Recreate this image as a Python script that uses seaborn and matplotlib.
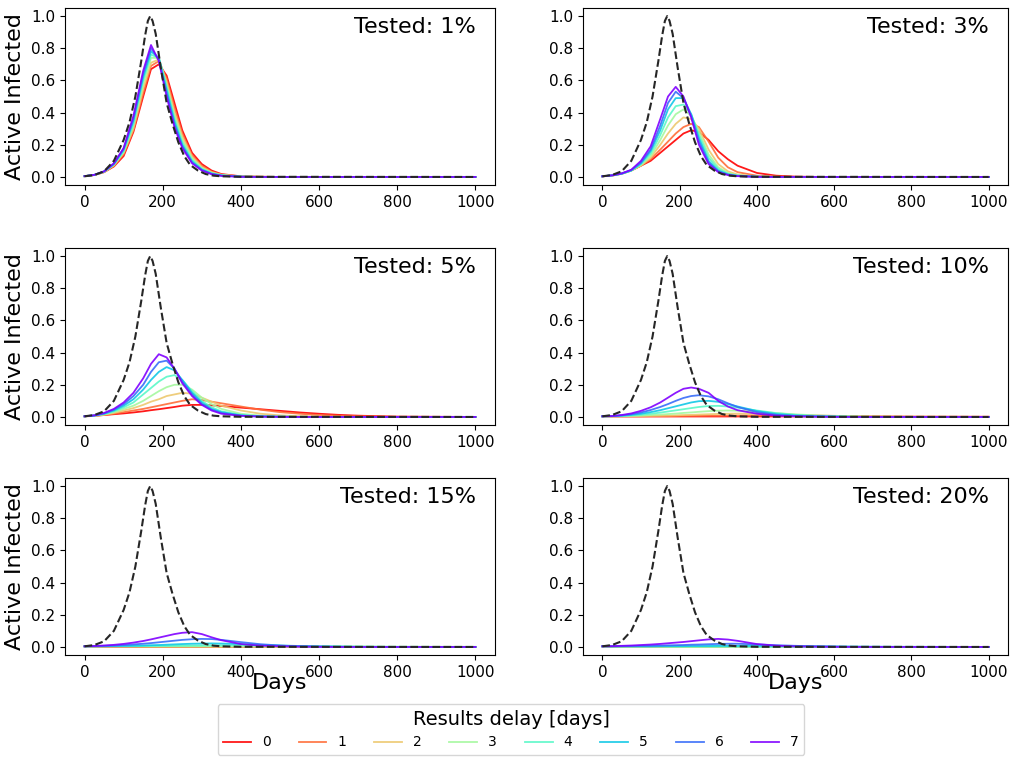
import numpy as np
import pandas as pd
import matplotlib
matplotlib.use("Agg")
import matplotlib.pyplot as plt
import seaborn as sns

DAYS = [0, 25, 50, 75, 100, 125, 150, 170, 190, 210, 230, 250, 275, 300,
        325, 350, 400, 450, 500, 550, 600, 650, 700, 800, 1000]

# no-testing reference curve (black dashed), same in every panel
BASE_DAYS = [0, 25, 50, 75, 100, 115, 130, 145, 155, 162, 168, 174, 182, 195,
             210, 225, 240, 255, 270, 290, 310, 330, 350, 400, 1000]
BASELINE = [0.004, 0.012, 0.035, 0.10, 0.23, 0.34, 0.50, 0.72, 0.88, 0.97, 1.00, 0.97, 0.89, 0.68,
            0.46, 0.33, 0.215, 0.13, 0.075, 0.04, 0.018, 0.008, 0.004, 0.001, 0]

TESTED = [1, 3, 5, 10, 15, 20]
DELAYS = [0, 1, 2, 3, 4, 5, 6, 7]

# one list per delay (0..7) for each tested share
T01 = [
    [0.005, 0.012, 0.03, 0.065, 0.13, 0.28, 0.50, 0.67, 0.70, 0.63, 0.46, 0.29, 0.15, 0.08, 0.04, 0.018, 0.004, 0.001, 0, 0, 0, 0, 0, 0, 0],
    [0.005, 0.012, 0.03, 0.068, 0.14, 0.29, 0.52, 0.69, 0.72, 0.61, 0.43, 0.27, 0.135, 0.07, 0.033, 0.015, 0.003, 0.001, 0, 0, 0, 0, 0, 0, 0],
    [0.005, 0.012, 0.031, 0.072, 0.15, 0.30, 0.55, 0.71, 0.73, 0.59, 0.40, 0.25, 0.125, 0.06, 0.029, 0.013, 0.003, 0.001, 0, 0, 0, 0, 0, 0, 0],
    [0.005, 0.012, 0.032, 0.075, 0.155, 0.32, 0.58, 0.74, 0.74, 0.57, 0.38, 0.23, 0.115, 0.055, 0.026, 0.012, 0.002, 0.0005, 0, 0, 0, 0, 0, 0, 0],
    [0.005, 0.013, 0.033, 0.078, 0.16, 0.33, 0.60, 0.76, 0.74, 0.56, 0.36, 0.215, 0.105, 0.05, 0.023, 0.01, 0.002, 0, 0, 0, 0, 0, 0, 0, 0],
    [0.005, 0.013, 0.034, 0.08, 0.17, 0.35, 0.62, 0.78, 0.74, 0.54, 0.345, 0.20, 0.097, 0.046, 0.021, 0.009, 0.002, 0, 0, 0, 0, 0, 0, 0, 0],
    [0.005, 0.013, 0.034, 0.082, 0.175, 0.36, 0.64, 0.80, 0.73, 0.52, 0.325, 0.19, 0.09, 0.043, 0.019, 0.008, 0.001, 0, 0, 0, 0, 0, 0, 0, 0],
    [0.005, 0.013, 0.035, 0.085, 0.18, 0.38, 0.66, 0.82, 0.72, 0.50, 0.31, 0.18, 0.085, 0.04, 0.017, 0.007, 0.001, 0, 0, 0, 0, 0, 0, 0, 0],
]
T03 = [
    [0.004, 0.008, 0.02, 0.04, 0.07, 0.10, 0.15, 0.19, 0.23, 0.27, 0.29, 0.28, 0.23, 0.16, 0.11, 0.07, 0.025, 0.008, 0.002, 0.0005, 0, 0, 0, 0, 0],
    [0.004, 0.009, 0.02, 0.04, 0.07, 0.11, 0.17, 0.22, 0.27, 0.31, 0.33, 0.31, 0.22, 0.12, 0.06, 0.03, 0.008, 0.002, 0.0005, 0, 0, 0, 0, 0, 0],
    [0.004, 0.009, 0.02, 0.04, 0.07, 0.12, 0.20, 0.27, 0.33, 0.37, 0.36, 0.30, 0.17, 0.08, 0.035, 0.015, 0.003, 0.001, 0, 0, 0, 0, 0, 0, 0],
    [0.004, 0.009, 0.02, 0.04, 0.075, 0.13, 0.23, 0.32, 0.39, 0.42, 0.38, 0.28, 0.14, 0.06, 0.025, 0.011, 0.002, 0.0005, 0, 0, 0, 0, 0, 0, 0],
    [0.004, 0.009, 0.02, 0.04, 0.08, 0.145, 0.26, 0.37, 0.44, 0.45, 0.39, 0.26, 0.12, 0.05, 0.02, 0.009, 0.002, 0, 0, 0, 0, 0, 0, 0, 0],
    [0.004, 0.01, 0.02, 0.04, 0.085, 0.16, 0.29, 0.42, 0.49, 0.49, 0.39, 0.24, 0.10, 0.04, 0.016, 0.007, 0.001, 0, 0, 0, 0, 0, 0, 0, 0],
    [0.004, 0.01, 0.021, 0.043, 0.09, 0.17, 0.32, 0.46, 0.53, 0.49, 0.38, 0.22, 0.09, 0.035, 0.014, 0.006, 0.001, 0, 0, 0, 0, 0, 0, 0, 0],
    [0.004, 0.01, 0.022, 0.045, 0.10, 0.19, 0.36, 0.50, 0.56, 0.50, 0.37, 0.20, 0.08, 0.03, 0.012, 0.005, 0.001, 0, 0, 0, 0, 0, 0, 0, 0],
]
T05 = [
    [0.004, 0.008, 0.012, 0.017, 0.022, 0.028, 0.035, 0.042, 0.048, 0.055, 0.062, 0.07, 0.075, 0.075, 0.072, 0.068, 0.058, 0.048, 0.038, 0.028, 0.02, 0.013, 0.008, 0.002, 0],
    [0.004, 0.006, 0.012, 0.02, 0.03, 0.04, 0.05, 0.06, 0.07, 0.08, 0.09, 0.10, 0.11, 0.105, 0.095, 0.085, 0.065, 0.045, 0.03, 0.02, 0.012, 0.007, 0.004, 0.001, 0],
    [0.004, 0.007, 0.014, 0.025, 0.04, 0.055, 0.075, 0.095, 0.11, 0.13, 0.14, 0.15, 0.145, 0.12, 0.095, 0.07, 0.04, 0.02, 0.01, 0.005, 0.002, 0.001, 0, 0, 0],
    [0.004, 0.008, 0.016, 0.03, 0.05, 0.07, 0.10, 0.13, 0.16, 0.185, 0.20, 0.20, 0.17, 0.12, 0.08, 0.05, 0.02, 0.008, 0.003, 0.001, 0, 0, 0, 0, 0],
    [0.004, 0.008, 0.018, 0.035, 0.06, 0.09, 0.14, 0.18, 0.22, 0.25, 0.26, 0.23, 0.16, 0.10, 0.06, 0.035, 0.013, 0.005, 0.002, 0, 0, 0, 0, 0, 0],
    [0.004, 0.009, 0.02, 0.04, 0.07, 0.11, 0.17, 0.23, 0.28, 0.31, 0.29, 0.23, 0.15, 0.09, 0.05, 0.03, 0.01, 0.003, 0.001, 0, 0, 0, 0, 0, 0],
    [0.004, 0.009, 0.022, 0.045, 0.08, 0.13, 0.20, 0.28, 0.34, 0.35, 0.30, 0.22, 0.14, 0.08, 0.045, 0.025, 0.008, 0.003, 0.001, 0, 0, 0, 0, 0, 0],
    [0.004, 0.01, 0.025, 0.05, 0.09, 0.15, 0.24, 0.33, 0.39, 0.37, 0.30, 0.21, 0.13, 0.075, 0.04, 0.02, 0.007, 0.002, 0.001, 0, 0, 0, 0, 0, 0],
]
T10 = [
    [0.004, 0.003, 0.003, 0.003, 0.003, 0.003, 0.003, 0.003, 0.003, 0.003, 0.003, 0.003, 0.003, 0.003, 0.003, 0.003, 0.003, 0.003, 0.003, 0.003, 0.002, 0.002, 0.002, 0.001, 0.001],
    [0.004, 0.004, 0.004, 0.004, 0.004, 0.005, 0.005, 0.005, 0.006, 0.006, 0.007, 0.007, 0.008, 0.008, 0.009, 0.009, 0.01, 0.01, 0.009, 0.008, 0.007, 0.005, 0.004, 0.002, 0.001],
    [0.004, 0.004, 0.004, 0.005, 0.006, 0.007, 0.008, 0.009, 0.01, 0.012, 0.013, 0.015, 0.017, 0.019, 0.02, 0.021, 0.02, 0.017, 0.013, 0.009, 0.006, 0.004, 0.002, 0.001, 0],
    [0.004, 0.004, 0.005, 0.007, 0.009, 0.012, 0.015, 0.018, 0.021, 0.025, 0.028, 0.032, 0.036, 0.039, 0.04, 0.039, 0.033, 0.024, 0.016, 0.01, 0.006, 0.003, 0.002, 0, 0],
    [0.004, 0.005, 0.007, 0.01, 0.014, 0.02, 0.027, 0.034, 0.041, 0.048, 0.055, 0.062, 0.068, 0.069, 0.065, 0.058, 0.04, 0.024, 0.013, 0.007, 0.003, 0.001, 0, 0, 0],
    [0.004, 0.005, 0.008, 0.013, 0.02, 0.03, 0.042, 0.054, 0.066, 0.078, 0.09, 0.098, 0.10, 0.094, 0.08, 0.065, 0.037, 0.018, 0.009, 0.004, 0.002, 0.001, 0, 0, 0],
    [0.004, 0.005, 0.01, 0.017, 0.028, 0.043, 0.062, 0.08, 0.10, 0.118, 0.13, 0.135, 0.128, 0.11, 0.085, 0.062, 0.03, 0.013, 0.006, 0.003, 0.001, 0, 0, 0, 0],
    [0.004, 0.006, 0.012, 0.022, 0.038, 0.06, 0.09, 0.12, 0.15, 0.175, 0.183, 0.175, 0.15, 0.10, 0.065, 0.042, 0.02, 0.008, 0.004, 0.002, 0.001, 0, 0, 0, 0],
]
T15 = [
    [0.004, 0.002, 0.001, 0.001, 0.001, 0.001, 0, 0, 0, 0, 0, 0, 0, 0, 0, 0, 0, 0, 0, 0, 0, 0, 0, 0, 0],
    [0.004, 0.003, 0.002, 0.002, 0.002, 0.001, 0.001, 0.001, 0.001, 0.001, 0.001, 0.001, 0.001, 0.001, 0.001, 0.001, 0.001, 0, 0, 0, 0, 0, 0, 0, 0],
    [0.004, 0.003, 0.003, 0.003, 0.003, 0.003, 0.002, 0.002, 0.002, 0.002, 0.002, 0.002, 0.002, 0.002, 0.002, 0.002, 0.001, 0.001, 0.001, 0.001, 0.001, 0.001, 0.001, 0, 0],
    [0.004, 0.004, 0.004, 0.004, 0.004, 0.004, 0.004, 0.004, 0.004, 0.004, 0.004, 0.004, 0.004, 0.004, 0.004, 0.004, 0.004, 0.004, 0.003, 0.003, 0.003, 0.002, 0.002, 0.001, 0.001],
    [0.004, 0.004, 0.004, 0.005, 0.005, 0.005, 0.006, 0.006, 0.007, 0.007, 0.008, 0.008, 0.009, 0.009, 0.01, 0.01, 0.01, 0.009, 0.007, 0.005, 0.004, 0.003, 0.002, 0.001, 0],
    [0.004, 0.004, 0.005, 0.006, 0.007, 0.008, 0.009, 0.011, 0.012, 0.014, 0.016, 0.018, 0.02, 0.021, 0.022, 0.021, 0.018, 0.013, 0.009, 0.006, 0.003, 0.002, 0.001, 0, 0],
    [0.004, 0.005, 0.007, 0.009, 0.012, 0.016, 0.02, 0.024, 0.029, 0.034, 0.039, 0.044, 0.048, 0.05, 0.049, 0.044, 0.03, 0.017, 0.009, 0.004, 0.002, 0.001, 0, 0, 0],
    [0.004, 0.006, 0.009, 0.013, 0.019, 0.027, 0.037, 0.047, 0.058, 0.069, 0.08, 0.088, 0.092, 0.08, 0.06, 0.042, 0.018, 0.008, 0.004, 0.002, 0.001, 0, 0, 0, 0],
]
T20 = [
    [0.004, 0.001, 0, 0, 0, 0, 0, 0, 0, 0, 0, 0, 0, 0, 0, 0, 0, 0, 0, 0, 0, 0, 0, 0, 0],
    [0.004, 0.002, 0.001, 0.001, 0, 0, 0, 0, 0, 0, 0, 0, 0, 0, 0, 0, 0, 0, 0, 0, 0, 0, 0, 0, 0],
    [0.004, 0.002, 0.002, 0.001, 0.001, 0.001, 0.001, 0, 0, 0, 0, 0, 0, 0, 0, 0, 0, 0, 0, 0, 0, 0, 0, 0, 0],
    [0.004, 0.003, 0.002, 0.002, 0.002, 0.002, 0.002, 0.001, 0.001, 0.001, 0.001, 0.001, 0.001, 0.001, 0.001, 0.001, 0.001, 0, 0, 0, 0, 0, 0, 0, 0],
    [0.004, 0.003, 0.003, 0.003, 0.003, 0.003, 0.003, 0.003, 0.003, 0.003, 0.003, 0.003, 0.003, 0.003, 0.003, 0.003, 0.002, 0.002, 0.002, 0.002, 0.001, 0.001, 0.001, 0, 0],
    [0.004, 0.004, 0.004, 0.004, 0.004, 0.004, 0.005, 0.005, 0.005, 0.005, 0.006, 0.006, 0.006, 0.007, 0.007, 0.007, 0.007, 0.006, 0.005, 0.004, 0.003, 0.002, 0.001, 0.001, 0],
    [0.004, 0.004, 0.005, 0.006, 0.007, 0.008, 0.009, 0.01, 0.011, 0.012, 0.014, 0.015, 0.017, 0.019, 0.02, 0.02, 0.016, 0.011, 0.007, 0.004, 0.002, 0.001, 0.001, 0, 0],
    [0.004, 0.005, 0.007, 0.009, 0.012, 0.015, 0.019, 0.023, 0.027, 0.031, 0.036, 0.041, 0.047, 0.05, 0.046, 0.038, 0.018, 0.008, 0.003, 0.002, 0.001, 0, 0, 0, 0],
]
PANELS = [T01, T03, T05, T10, T15, T20]

# delay 0 = red ... delay 7 = purple
colors = [plt.get_cmap("rainbow")(v) for v in np.linspace(1, 0, len(DELAYS))]

W, H = 1011, 758
fig = plt.figure(figsize=(W / 100, H / 100), dpi=100)

# panel boxes in pixels: (left, top, width, height)
lefts = [65, 583]
widths = [430, 425]
tops = [8, 248, 478]
ph = 177

axes = []
for i, (pct, curves) in enumerate(zip(TESTED, PANELS)):
    r, c = divmod(i, 2)
    ax = fig.add_axes([lefts[c] / W, 1 - (tops[r] + ph) / H, widths[c] / W, ph / H])
    axes.append(ax)

    rows = []
    for d, vals in zip(DELAYS, curves):
        for x, y in zip(DAYS, vals):
            rows.append({"day": x, "value": y, "delay": d})
    df = pd.DataFrame(rows)

    sns.lineplot(data=df, x="day", y="value", hue="delay", palette=colors,
                 linewidth=1.3, alpha=0.9, legend=False, ax=ax)
    sns.lineplot(x=BASE_DAYS, y=BASELINE, color="0.15", linestyle="--",
                 linewidth=1.5, ax=ax)

    ax.text(0.955, 0.89, f"Tested: {pct}%", transform=ax.transAxes,
            ha="right", va="center", fontsize=16)
    ax.set_xticks([0, 200, 400, 600, 800, 1000])
    ax.set_yticks([0.0, 0.2, 0.4, 0.6, 0.8, 1.0])
    ax.tick_params(labelsize=11)
    ax.set_xlabel("Days" if r == 2 else "", fontsize=16, labelpad=-5)
    ax.set_ylabel("Active Infected" if c == 0 else "", fontsize=16)

handles = axes[0].get_lines()[:len(DELAYS)]
fig.legend(handles, [str(d) for d in DELAYS], loc="upper center",
           bbox_to_anchor=(511 / W, 1 - 704 / H), borderaxespad=0,
           ncol=8, fontsize=10, title="Results delay [days]", title_fontsize=14)

fig.savefig("out.png", dpi=100)
